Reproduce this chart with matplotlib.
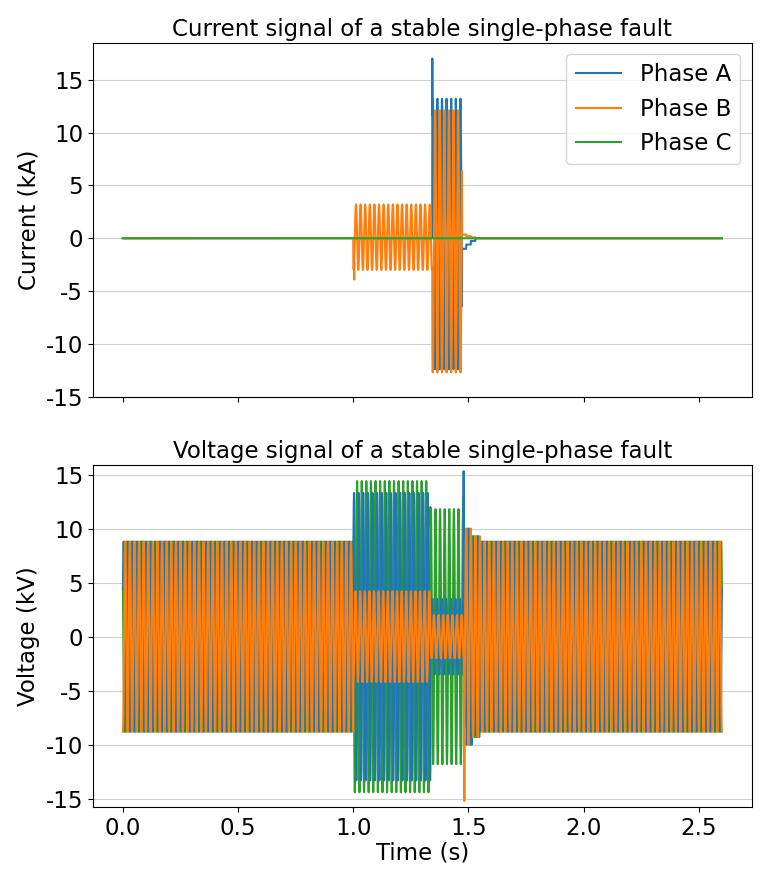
import numpy as np
import matplotlib
matplotlib.use("Agg")
import matplotlib.pyplot as plt

plt.rcParams['font.family'] = ['DejaVu Sans']
plt.rcParams['axes.unicode_minus'] = False

# --- signal description ---
f0 = 50          # grid frequency (Hz)
fs = 5000        # samples per second
t_end = 2.6      # s

# voltage: segment edges (s) and per-segment peak values (kV)
v_edges = [0.0, 1.0, 1.335, 1.48, 1.515, 1.55, 2.6]
va_peak = [8.8, 13.3, 3.5, 10.0, 9.3, 8.8]
vb_peak = [8.8, 4.2, 2.0, 10.0, 9.3, 8.8]
vc_peak = [8.8, 14.4, 11.8, 10.0, 9.3, 8.8]
# single-sample transients (phase, time, kV)
v_spikes = [("A", 1.479, 15.3), ("B", 1.482, -15.2), ("C", 1.477, 13.0)]

# current: segment edges (s), peaks (kA), dc offsets (kA), phase angles (deg)
i_edges = [0.0, 1.0, 1.343, 1.472, 1.49, 1.51, 1.53, 2.6]
ia_peak = [0.0, 0.05, 12.8, 0.0, 0.0, 0.0, 0.0]
ib_peak = [0.0, 3.1, 12.4, 0.0, 0.0, 0.0, 0.0]
ic_peak = [0.0, 0.0, 0.0, 0.0, 0.0, 0.0, 0.0]
ia_dc = [0.0, 0.0, 0.4, -1.0, -0.6, -0.25, 0.0]
ib_dc = [0.0, 0.1, -0.3, 0.35, 0.2, 0.08, 0.0]
ia_ang = [0, 0, 0, 0, 0, 0, 0]
ib_ang = [0, -120, 180, 0, 0, 0, 0]
i_spikes = [("A", 1.343, 17.0), ("B", 1.004, -3.9)]

phase_names = ["Phase A", "Phase B", "Phase C"]
v_shift = {"A": 30, "B": -90, "C": 150}


def segment_index(t, edges):
    idx = np.searchsorted(edges, t, side='right') - 1
    return np.clip(idx, 0, len(edges) - 2)


def build(t, edges, peak, shift_deg, dc=None, ang=None):
    k = segment_index(t, edges)
    amp = np.asarray(peak)[k]
    extra = 0.0 if ang is None else np.deg2rad(np.asarray(ang)[k])
    off = 0.0 if dc is None else np.asarray(dc)[k]
    return amp * np.sin(2 * np.pi * f0 * t + np.deg2rad(shift_deg) + extra) + off


def add_spikes(t, sig, spikes, name):
    for ph, ts, val in spikes:
        if ph == name:
            sig[np.argmin(np.abs(t - ts))] = val
    return sig


t = np.arange(0, t_end + 1 / fs / 2, 1 / fs)

volt = {
    "A": add_spikes(t, build(t, v_edges, va_peak, v_shift["A"]), v_spikes, "A"),
    "B": add_spikes(t, build(t, v_edges, vb_peak, v_shift["B"]), v_spikes, "B"),
    "C": add_spikes(t, build(t, v_edges, vc_peak, v_shift["C"]), v_spikes, "C"),
}
curr = {
    "A": add_spikes(t, build(t, i_edges, ia_peak, 0, ia_dc, ia_ang), i_spikes, "A"),
    "B": add_spikes(t, build(t, i_edges, ib_peak, 0, ib_dc, ib_ang), i_spikes, "B"),
    "C": add_spikes(t, build(t, i_edges, ic_peak, 0), i_spikes, "C"),
}

colors = {"A": "#1f77b4", "B": "#ff7f0e", "C": "#2ca02c"}
fsz = 16.5

fig = plt.figure(figsize=(7.68, 8.72), dpi=100)
ax1 = fig.add_axes([0.121, 0.545, 0.858, 0.406])
ax2 = fig.add_axes([0.121, 0.074, 0.858, 0.393], sharex=ax1)

# current panel
for ph, name in zip("ABC", phase_names):
    ax1.plot(t, curr[ph], color=colors[ph], lw=1.5, label=name)
ax1.set_title("Current signal of a stable single-phase fault", fontsize=fsz, pad=5)
ax1.set_ylabel("Current (kA)", fontsize=fsz)
ax1.set_ylim(-15, 18.5)
ax1.set_yticks([-15, -10, -5, 0, 5, 10, 15])
ax1.grid(axis='y', color='#d0d0d0')
ax1.legend(loc='upper right', fontsize=fsz)
ax1.tick_params(labelsize=fsz, labelbottom=False)

# voltage panel
for ph in "CAB":
    ax2.plot(t, volt[ph], color=colors[ph], lw=1.5)
ax2.set_title("Voltage signal of a stable single-phase fault", fontsize=fsz, pad=5)
ax2.set_ylabel("Voltage (kV)", fontsize=fsz)
ax2.set_xlabel("Time (s)", fontsize=fsz, labelpad=1)
ax2.set_ylim(-15.8, 15.9)
ax2.set_yticks([-15, -10, -5, 0, 5, 10, 15])
ax2.grid(axis='y', color='#d0d0d0')
ax2.tick_params(labelsize=fsz)

fig.savefig("out.png", dpi=100)
